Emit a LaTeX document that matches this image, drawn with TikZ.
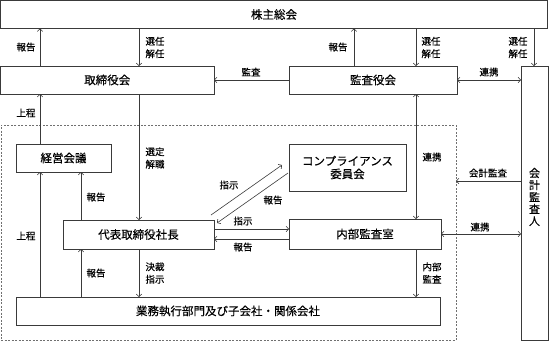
\documentclass[tikz,border=0pt]{standalone}
\usepackage{fontspec}
\setmainfont{Noto Sans CJK JP}[FakeBold=0.35]
\usetikzlibrary{arrows.meta}
\definecolor{ln}{HTML}{3A3A3A}
\definecolor{dl}{HTML}{707070}
\begin{document}
\begin{tikzpicture}[x=1pt,y=-1pt,
  box/.style={draw=ln, line width=0.8pt, inner sep=0pt, outer sep=0pt, anchor=north west, align=center, font=\fontsize{11.5}{13}\selectfont},
  lbl/.style={inner sep=0pt, align=left, font=\fontsize{9.5}{12.5}\selectfont},
  arr/.style={draw=ln, line width=0.6pt, -{Straight Barb[length=2.5pt,width=5.5pt]}},
  darr/.style={draw=ln, line width=0.6pt, {Straight Barb[length=2.5pt,width=5.5pt]}-{Straight Barb[length=2.5pt,width=5.5pt]}}]
\useasboundingbox (0,0) rectangle (549,341);
% dashed frame
\node[draw=dl, dashed, line width=0.7pt, dash pattern=on 2pt off 1.5pt, inner sep=0pt, outer sep=0pt, anchor=north west, minimum width=455pt, minimum height=215pt] (ctrl) at (1,125) {};
% boxes
\node[box, minimum width=547pt, minimum height=28pt] (sh) at (0.5,0.5) {株主総会};
\node[box, minimum width=213.5pt, minimum height=28pt] (bd) at (0.5,66) {取締役会};
\node[box, minimum width=168pt, minimum height=28pt] (ka) at (289,66) {監査役会};
\node[box, minimum width=27pt, minimum height=274pt] (au) at (521,66) {};
\node[font=\fontsize{11}{12}\selectfont, align=center, inner sep=0pt] (aut) at (534.5,197) {会\\計\\監\\査\\人};
\node[box, minimum width=95pt, minimum height=28pt] (ke) at (16,144) {経営会議};
\node[box, minimum width=117pt, minimum height=47pt] (co) at (289,144) {コンプライアンス\\委員会};
\node[box, minimum width=151pt, minimum height=29pt] (ceo) at (63,220) {代表取締役社長};
\node[box, minimum width=152pt, minimum height=30pt] (nb) at (289,219) {内部監査室};
\node[box, minimum width=424pt, minimum height=28pt] (gy) at (16,297) {業務執行部門及び子会社・関係会社};
% top connectors
\draw[arr] (40,0 |- bd.north) -- (40,0 |- sh.south);
\draw[arr] (139,0 |- sh.south) -- (139,0 |- bd.north);
\draw[arr] (354,0 |- ka.north) -- (354,0 |- sh.south);
\draw[arr] (416,0 |- sh.south) -- (416,0 |- ka.north);
\draw[arr] (534,0 |- sh.south) -- (534,0 |- au.north);
\draw[arr] (ka.west |- 0,80) -- (bd.east |- 0,80);
\draw[darr] (ka.east |- 0,80) -- (au.west |- 0,80);
% inner connectors
\draw[arr] (40,0 |- ke.north) -- (40,0 |- bd.south);
\draw[arr] (139,0 |- bd.south) -- (139,0 |- ceo.north);
\draw[arr] (81,0 |- ceo.north) -- (81,0 |- ke.south);
\draw[arr] (40,0 |- gy.north) -- (40,0 |- ke.south);
\draw[arr] (81,0 |- gy.north) -- (81,0 |- ceo.south);
\draw[arr] (139,0 |- ceo.south) -- (139,0 |- gy.north);
\draw[arr] (ceo.east |- 0,229) -- (nb.west |- 0,229);
\draw[arr] (nb.west |- 0,239) -- (ceo.east |- 0,239);
\coordinate (d1s) at (211,215);
\coordinate (d1e) at (282,165);
\coordinate (d2s) at (288,173);
\coordinate (d2e) at (217,223);
\draw[arr] (d1s) -- (d1e);
\draw[arr] (d2s) -- (d2e);
\draw[darr] (416,0 |- ka.south) -- (416,0 |- nb.north);
\draw[arr] (416,0 |- nb.south) -- (416,0 |- gy.north);
\draw[darr] (nb.east |- 0,234) -- (au.west |- 0,234);
\draw[arr] (au.west |- 0,181) -- (ctrl.east |- 0,181);
% labels
\node[lbl] (l1) at (26,47) {報告};
\node[lbl] (l2) at (155,47.5) {選任\\解任};
\node[lbl] (l3) at (251,72) {監査};
\node[lbl] (l4) at (338,47) {報告};
\node[lbl] (l5) at (431,47.5) {選任\\解任};
\node[lbl] (l6) at (518,47.5) {選任\\解任};
\node[lbl] (l7) at (489,72) {連携};
\node[lbl] (l8) at (26,113) {上程};
\node[lbl] (l9) at (155,158) {選定\\解職};
\node[lbl] (l10) at (96,197) {報告};
\node[lbl] (l11) at (26,236) {上程};
\node[lbl] (l12) at (96,273) {報告};
\node[lbl] (l13) at (155,273) {決裁\\指示};
\node[lbl] (l14) at (229,185) {指示};
\node[lbl] (l15) at (273,200) {報告};
\node[lbl] (l16) at (243,221) {指示};
\node[lbl] (l17) at (243,247) {報告};
\node[lbl] (l18) at (432,157) {連携};
\node[lbl] (l19) at (432,273) {内部\\監査};
\node[lbl] (l20) at (488,173) {会計監査};
\node[lbl] (l21) at (480,227) {連携};
\end{tikzpicture}
\end{document}
